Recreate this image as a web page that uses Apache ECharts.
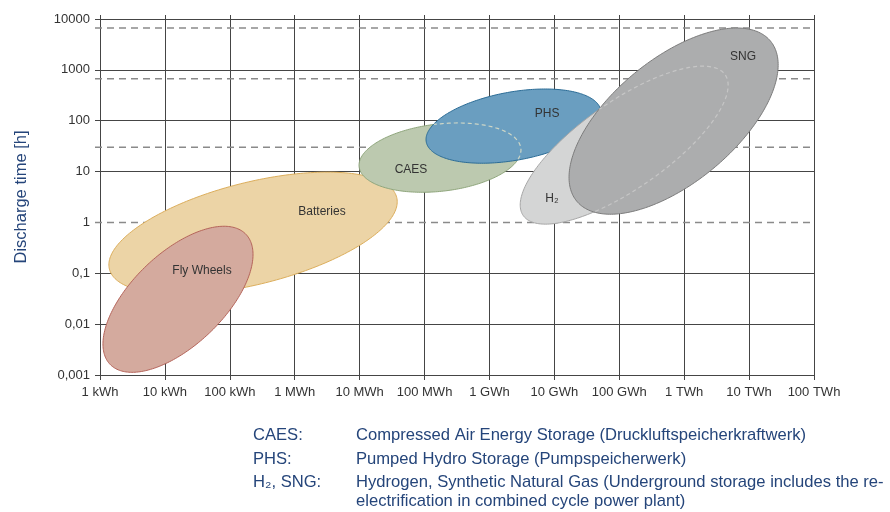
<!DOCTYPE html>
<html>
<head>
<meta charset="utf-8">
<script src="https://cdn.jsdelivr.net/npm/echarts@6/dist/echarts.min.js"></script>
<style>
  html, body { margin: 0; padding: 0; background: #ffffff; }
  #chart { width: 890px; height: 512px; }
</style>
</head>
<body>
<div id="chart"></div>
<script>
// Axis tick labels: energy per decade (kWh based) and discharge time (h)
const energyTickLabels = ['1 kWh', '10 kWh', '100 kWh', '1 MWh', '10 MWh', '100 MWh',
  '1 GWh', '10 GWh', '100 GWh', '1 TWh', '10 TWh', '100 TWh'];
const hoursTickLabels = ['0,001', '0,01', '0,1', '1', '10', '100', '1000', '10000'];

// Dashed reference levels of discharge time (h)
const dashedHours = [6650, 665, 30, 1];

// Storage technologies, each an ellipse in log-log space
const techNames = ['Batteries', 'Fly Wheels', 'CAES', 'PHS', 'H\u2082', 'SNG'];
const centreEnergyKWh = [2.28e2, 1.59e1, 1.73e5, 2.35e6, 1.19e8, 6.87e8];
const centreHours = [0.612, 0.0308, 18.8, 78.3, 33.1, 98.2];
// conjugate half-axes of each ellipse, in decades of [energy, hours]
const halfAxisA = [[2.213, 0.705], [1.047, 1.278], [1.246, 0.181], [1.345, 0.309], [1.555, 1.385], [1.493, 1.573]];
const halfAxisB = [[-0.190, 0.974], [-0.490, 0.655], [-0.059, 0.657], [-0.093, 0.661], [-0.384, 0.704], [-0.605, 0.937]];
// where each name is written
const labelEnergyKWh = [2.63e3, 3.73e1, 6.19e4, 7.72e6, 9.2e6, 8.09e9];
const labelHours = [1.66, 0.1146, 10.7, 134.9, 2.87, 1786];

// Outlines shown dashed where another region covers them: [covered, covering]
const hiddenOutlines = [[2, 3], [4, 5]];

// Notes below the chart
const noteKeys = ['CAES:', 'PHS:', 'H\u2082, SNG:', ''];
const noteTexts = [
  'Compressed Air Energy Storage (Druckluftspeicherkraftwerk)',
  'Pumped Hydro Storage (Pumpspeicherwerk)',
  'Hydrogen, Synthetic Natural Gas (Underground storage includes the re-',
  'electrification in combined cycle power plant)'
];

// Styles
const regionFill = ['#ecd4a6', '#d4aa9e', '#bcc9af', '#6a9ec0', '#d4d5d5', '#acadae'];
const regionStroke = ['#dcae5c', '#b5645a', '#8fa67c', '#2b6c96', '#a6a6a6', '#7c7c7c'];
const hiddenStroke = { 2: '#cdd6c6', 4: '#c6c6c6' };
const gridColor = '#454545';
const noteColor = '#25457a';
const font = 'Liberation Sans, Arial, sans-serif';

function ellipseLogPoints(i, n) {
  const cx = Math.log10(centreEnergyKWh[i]);
  const cy = Math.log10(centreHours[i]);
  const a = halfAxisA[i], b = halfAxisB[i];
  const pts = [];
  for (let k = 0; k < n; k++) {
    const t = 2 * Math.PI * k / n;
    const c = Math.cos(t), s = Math.sin(t);
    pts.push([cx + a[0] * c + b[0] * s, cy + a[1] * c + b[1] * s]);
  }
  return pts;
}

function insideEllipse(j, p) {
  const dx = p[0] - Math.log10(centreEnergyKWh[j]);
  const dy = p[1] - Math.log10(centreHours[j]);
  const A = halfAxisA[j], B = halfAxisB[j];
  const det = A[0] * B[1] - A[1] * B[0];
  const al = (dx * B[1] - dy * B[0]) / det;
  const be = (A[0] * dy - A[1] * dx) / det;
  return al * al + be * be < 1;
}

function toPixel(api, p) {
  return api.coord([Math.pow(10, p[0]), Math.pow(10, p[1])]);
}

function renderRegion(params, api) {
  const i = api.value(2);
  const n = 240;
  const pts = ellipseLogPoints(i, n);
  const children = [{
    type: 'polygon',
    shape: { points: pts.map(p => toPixel(api, p)) },
    style: { fill: regionFill[i], stroke: regionStroke[i], lineWidth: 1 }
  }];
  // dashed outline of regions lying underneath this one
  hiddenOutlines.forEach(([under, over]) => {
    if (over !== i) return;
    const up = ellipseLogPoints(under, n);
    const flags = up.map(p => insideEllipse(i, p));
    let start = flags.findIndex(f => !f);
    if (start < 0) start = 0;
    let run = [];
    const runs = [];
    for (let k = 1; k <= n; k++) {
      const idx = (start + k) % n;
      if (flags[idx]) {
        run.push(up[idx]);
      } else if (run.length) {
        runs.push(run); run = [];
      }
    }
    if (run.length) runs.push(run);
    runs.forEach(r => {
      if (r.length < 2) return;
      children.push({
        type: 'polyline',
        shape: { points: r.map(p => toPixel(api, p)) },
        style: { fill: null, stroke: hiddenStroke[under], lineWidth: 1.2, lineDash: [4, 3] }
      });
    });
  });
  const lp = api.coord([labelEnergyKWh[i], labelHours[i]]);
  children.push({
    type: 'text',
    style: {
      text: techNames[i], x: lp[0], y: lp[1],
      align: 'center', verticalAlign: 'middle',
      fill: '#333333', fontSize: 12, fontFamily: font
    }
  });
  return { type: 'group', children };
}

function renderDashed(params, api) {
  const h = api.value(1);
  const p0 = api.coord([1, h]);
  const p1 = api.coord([1e11, h]);
  return {
    type: 'line',
    shape: { x1: p0[0] - 5, y1: p0[1], x2: p1[0], y2: p1[1] },
    style: { stroke: '#8a8a8a', lineWidth: 1.5, lineDash: [7, 5] }
  };
}

const chart = echarts.init(document.getElementById('chart'), null, { renderer: 'canvas' });

const ySplitColors = hoursTickLabels.map(t => (t === '1' ? 'rgba(0,0,0,0)' : gridColor));

const graphics = [];
const noteY = [436, 460, 483, 502];
noteKeys.forEach((k, i) => {
  if (k) {
    graphics.push({ type: 'text', left: 253, top: noteY[i] - 9,
      style: { text: k, fill: noteColor, fontSize: 16.6, fontFamily: font } });
  }
  graphics.push({ type: 'text', left: 356, top: noteY[i] - 9,
    style: { text: noteTexts[i], fill: noteColor, fontSize: 16.6, fontFamily: font } });
});

chart.setOption({
  animation: false,
  backgroundColor: '#ffffff',
  grid: { left: 100, right: 76, top: 19, bottom: 137, containLabel: false },
  xAxis: [{
    type: 'log', logBase: 10, min: 1, max: 1e11, position: 'bottom', interval: 1,
    axisLine: { show: true, lineStyle: { color: gridColor, width: 1 } },
    axisTick: { show: true, length: 5, lineStyle: { color: gridColor, width: 1 } },
    axisLabel: {
      color: '#333333', fontSize: 13, fontFamily: font, margin: 11, interval: 0,
      formatter: v => energyTickLabels[Math.round(Math.log10(v))]
    },
    splitLine: { show: true, lineStyle: { color: gridColor, width: 1 } },
    minorTick: { show: false }, minorSplitLine: { show: false }
  }, {
    type: 'log', logBase: 10, min: 1, max: 1e11, position: 'top', interval: 1,
    axisLine: { show: false },
    axisTick: { show: true, length: 4, lineStyle: { color: gridColor, width: 1 } },
    axisLabel: { show: false },
    splitLine: { show: false }
  }],
  yAxis: {
    type: 'log', logBase: 10, min: 0.001, max: 10000, splitNumber: 7,
    name: 'Discharge time [h]', nameLocation: 'middle', nameRotate: 90, nameGap: 70,
    nameTextStyle: { color: noteColor, fontSize: 16.5, fontFamily: font },
    axisLine: { show: true, lineStyle: { color: gridColor, width: 1 } },
    axisTick: { show: true, length: 5, lineStyle: { color: gridColor, width: 1 } },
    axisLabel: {
      color: '#333333', fontSize: 13, fontFamily: font, margin: 10,
      formatter: v => hoursTickLabels[Math.round(Math.log10(v)) + 3]
    },
    splitLine: { show: true, lineStyle: { color: ySplitColors, width: 1 } }
  },
  series: [{
    type: 'custom',
    name: 'dashed levels',
    coordinateSystem: 'cartesian2d',
    xAxisIndex: 0, yAxisIndex: 0,
    clip: false,
    silent: true,
    z: 1,
    data: dashedHours.map(h => [1, h]),
    encode: { x: 0, y: 1 },
    renderItem: renderDashed
  }, {
    type: 'custom',
    name: 'storage technologies',
    coordinateSystem: 'cartesian2d',
    xAxisIndex: 0, yAxisIndex: 0,
    clip: false,
    silent: true,
    z: 2,
    data: techNames.map((n, i) => [centreEnergyKWh[i], centreHours[i], i]),
    encode: { x: 0, y: 1 },
    renderItem: renderRegion
  }],
  graphic: graphics
});
</script>
</body>
</html>
